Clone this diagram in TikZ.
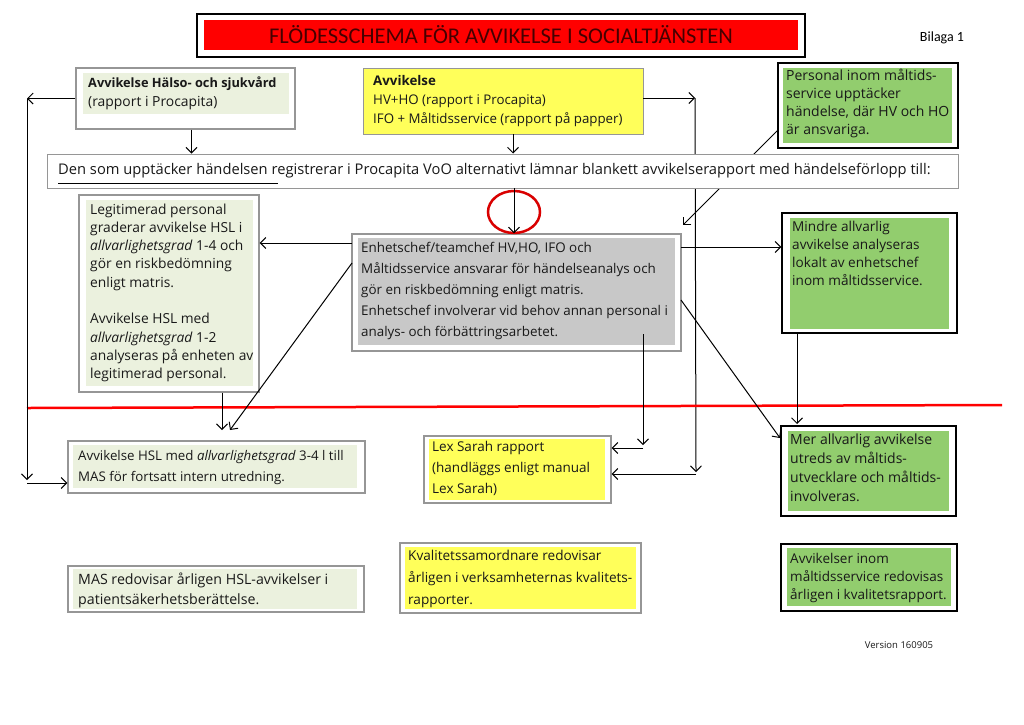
\documentclass[tikz,border=0pt]{standalone}
\usepackage{fontspec}
\setmainfont{Open Sans}
\newfontfamily\calib{Carlito}
\usetikzlibrary{arrows.meta,fit}
\pgfdeclarelayer{bg}
\pgfsetlayers{bg,main}
\definecolor{lgreen}{RGB}{235,241,222}
\definecolor{myyellow}{RGB}{255,255,90}
\definecolor{mygreen}{RGB}{146,205,110}
\definecolor{mygrey}{RGB}{200,200,200}
\definecolor{bgrey}{RGB}{150,150,150}
\definecolor{titletxt}{RGB}{70,0,0}
\definecolor{txtc}{RGB}{25,25,25}
\begin{document}
\begin{tikzpicture}[x=1pt,y=-1pt,
 gbox/.style={draw=bgrey, line width=1.3pt, inner sep=0pt, fill=white},
 kbox/.style={draw=black, line width=1.5pt, inner sep=0pt, fill=white},
 ybox/.style={draw=bgrey, line width=0.8pt, inner sep=0pt, fill=myyellow},
 txt/.style={anchor=north west, inner sep=0pt, align=left, text=txtc},
 arr/.style={-{Straight Barb[length=5.5pt,width=11pt]}, line width=1pt},
 ln/.style={line width=1pt}]

\begin{pgfonlayer}{bg}
\useasboundingbox[fill=white] (0,0) rectangle (1024,724);
\end{pgfonlayer}

% title
\node[draw=black, line width=1.3pt, inner sep=0pt, fit={(197,14)(805,57)}] (title) {};
\fill[red] (204,20) rectangle (798,50);
\node[font=\calib\fontsize{22.5}{24}\selectfont, text=titletxt] (ttext) at (501,35) {FLÖDESSCHEMA FÖR AVVIKELSE I SOCIALTJÄNSTEN};
\node[font=\calib\fontsize{14}{16}\selectfont] (bilaga) at (942,38) {Bilaga 1};

% top boxes
\node[gbox, fit={(76,68)(295,129)}] (b1) {};
\fill[lgreen] (83,73) rectangle (289,114);
\node[txt, font=\fontsize{13.9}{19}\selectfont] (t1) at (88,73.5) {\strut\textbf{\fontsize{12.8}{19}\selectfont Avvikelse Hälso- och sjukvård}\\(rapport i Procapita)};

\node[ybox, fit={(363,68)(643,134)}] (b2) {};
\node[txt, font=\fontsize{13.3}{19}\selectfont] (t2) at (373,72.3) {\strut\textbf{Avvikelse}\\HV+HO (rapport i Procapita)\\IFO + Måltidsservice (rapport på papper)};

\node[kbox, fit={(778,63)(958,148)}] (b3) {};
\fill[mygreen] (783,68) rectangle (952,143);
\node[txt, font=\fontsize{14}{18.3}\selectfont] (t3) at (786,67) {\strut Personal inom måltids-\\service upptäcker\\händelse, där HV och HO\\är ansvariga.};

% bar
\node[draw=bgrey, line width=1pt, inner sep=0pt, fill=white, fit={(47,154)(958,188)}] (bar) {};
\node[anchor=west, inner sep=0pt, text=txtc, font=\fontsize{14.7}{16}\selectfont] (bartxt) at (58,171) {Den som upptäcker händelsen registrerar i Procapita VoO alternativt lämnar blankett avvikelserapport med händelseförlopp till:};
\coordinate (u1) at (58,183);
\coordinate (u2) at (278,183);
\draw[ln] (u1) -- (u2);

% left middle
\node[gbox, fit={(79,195)(259,392)}] (leg) {};
\fill[lgreen] (86,200) rectangle (253,386);
\node[txt, font=\fontsize{13.8}{18.3}\selectfont] (tleg) at (90,201) {\strut Legitimerad personal\\graderar avvikelse HSL i\\\textit{allvarlighetsgrad} 1-4 och\\gör en riskbedömning\\enligt matris.\\[18.3pt]Avvikelse HSL med\\\textit{allvarlighetsgrad} 1-2\\analyseras på enheten av\\legitimerad personal.};

% center
\node[gbox, fit={(352,234)(681,351)}] (ctr) {};
\fill[mygrey] (358,238) rectangle (675,345);
\node[txt, font=\fontsize{13.4}{21}\selectfont] (tctr) at (361,237.5) {\strut Enhetschef/teamchef HV,HO, IFO och\\Måltidsservice ansvarar för händelseanalys och\\gör en riskbedömning enligt matris.\\Enhetschef involverar vid behov annan personal i\\analys- och förbättringsarbetet.};

% right middle
\node[kbox, fit={(782,213)(957,333)}] (mind) {};
\fill[mygreen] (790,218) rectangle (949,329);
\node[txt, font=\fontsize{13.6}{18}\selectfont] (tmind) at (792,219.1) {\strut Mindre allvarlig\\avvikelse analyseras\\lokalt av enhetschef\\inom måltidsservice.};

% red line
\coordinate (r1) at (27,408);
\coordinate (r2) at (1002,405);
\draw[red, line width=2.5pt] (r1) -- (r2);

% lower boxes
\node[gbox, fit={(68,441)(365,493)}] (hsl) {};
\fill[lgreen] (73,445) rectangle (357,488);
\node[txt, font=\fontsize{13.3}{21}\selectfont] (thsl) at (78,445.9) {\strut Avvikelse HSL med \textit{allvarlighetsgrad} 3-4 l till\\MAS för fortsatt intern utredning.};

\node[gbox, fit={(424,436)(611,503)}] (lex) {};
\fill[myyellow] (429,439) rectangle (605,500);
\node[txt, font=\fontsize{13.5}{21}\selectfont] (tlex) at (432,436.9) {\strut Lex Sarah rapport\\(handläggs enligt manual\\Lex Sarah)};

\node[kbox, fit={(781,426)(956,516)}] (mer) {};
\fill[mygreen] (788,431) rectangle (949,511);
\node[txt, font=\fontsize{14}{19}\selectfont] (tmer) at (790,430.6) {\strut Mer allvarlig avvikelse\\utreds av måltids-\\utvecklare och måltids-\\involveras.};

% bottom boxes
\node[gbox, fit={(68,566)(364,612)}] (mas) {};
\fill[lgreen] (73,569) rectangle (357,609);
\node[txt, font=\fontsize{14.2}{20}\selectfont] (tmas) at (78,569.9) {\strut MAS redovisar årligen HSL-avvikelser i\\patientsäkerhetsberättelse.};

\node[gbox, fit={(400,543)(641,613)}] (kval) {};
\fill[myyellow] (405,547) rectangle (636,609);
\node[txt, font=\fontsize{13.6}{22}\selectfont] (tkval) at (408,545.3) {\strut Kvalitetssamordnare redovisar\\årligen i verksamheternas kvalitets-\\rapporter.};

\node[kbox, fit={(781,544)(957,611)}] (avm) {};
\fill[mygreen] (787,548) rectangle (951,606);
\node[txt, font=\fontsize{13.5}{18}\selectfont] (tavm) at (790,551) {\strut Avvikelser inom\\måltidsservice redovisas\\årligen i kvalitetsrapport.};

\node[font=\fontsize{9.5}{11}\selectfont, text=txtc] (ver) at (899,645) {Version 160905};

% circle
\draw[red!85!black, line width=2.5pt] (514,212) ellipse [x radius=26pt, y radius=21pt];

% connectors
\coordinate (cL) at (27,98.5);
\draw[arr] (b1.west) -- (cL);
\coordinate (cLb) at (27,480);
\draw[arr] (cL) -- (cLb);
\coordinate (cLc) at (27,483);
\draw[arr] (cLc) -- (hsl.west |- cLc);

\draw[arr] ([xshift=6]b1.south) -- ([xshift=6]b1.south |- bar.north);
\draw[arr] ([xshift=10]b2.south) -- ([xshift=10]b2.south |- bar.north);

\coordinate (cR) at (695,98);
\draw[arr] (b2.east |- cR) -- (cR);
\coordinate (cRb) at (696,472);
\begin{pgfonlayer}{bg}
\draw[arr] (cR) -- (cRb);
\end{pgfonlayer}
\coordinate (cRc) at (696,474);
\draw[arr] (cRc) -- (lex.east |- cRc);

\coordinate (cM) at (514,188);
\draw[arr] (cM) -- (ctr.north -| cM);

\coordinate (cA) at (352,243);
\draw[arr] (cA) -- (leg.east |- cA);

\coordinate (dA) at (352,263);
\coordinate (dB) at (230,430);
\draw[arr] (dA) -- (dB);

\coordinate (vA) at (222,430);
\draw[arr] (leg.south -| vA) -- (vA);

\coordinate (cB) at (681,247);
\draw[arr] (cB) -- (mind.west |- cB);

\coordinate (dC) at (681,300);
\coordinate (dD) at (780,438);
\draw[arr] (dC) -- (dD);

\coordinate (dE) at (783,125);
\coordinate (dF) at (683,225);
\begin{pgfonlayer}{bg}
\draw[arr] (dE) -- (dF);
\end{pgfonlayer}

\coordinate (vB) at (797,424);
\draw[arr] (mind.south -| vB) -- (vB);

\coordinate (vC) at (643,334);
\coordinate (vD) at (643,445);
\draw[arr] (vC) -- (vD);
\coordinate (vE) at (643,448);
\draw[arr] (vE) -- (lex.east |- vE);
\end{tikzpicture}
\end{document}
